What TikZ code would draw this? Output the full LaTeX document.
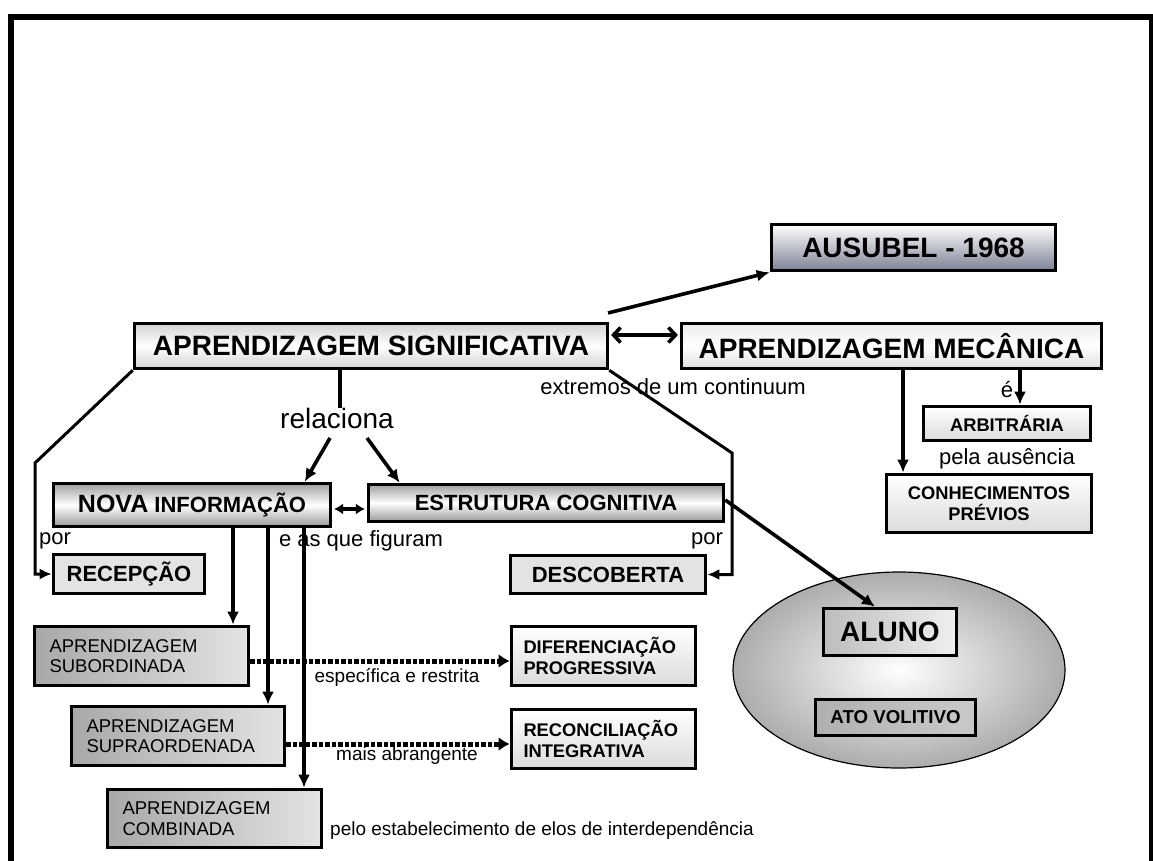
\documentclass[tikz,border=0pt]{standalone}
\usepackage{fontspec}
\setmainfont{Liberation Sans}
\usetikzlibrary{arrows.meta,calc,shapes.geometric}
\definecolor{ausb}{RGB}{125,130,148}
\newcommand{\myBig}{\fontsize{28}{32}\selectfont\bfseries}
\newcommand{\myMid}{\fontsize{22}{26}\selectfont\bfseries}
\newcommand{\mySmB}{\fontsize{18.3}{20.5}\selectfont\bfseries}
\newcommand{\mySmR}{\fontsize{18.5}{20.5}\selectfont}
\begin{document}
\begin{tikzpicture}[x=1pt,y=-1pt,
  box/.style={draw, line width=3.6pt, inner sep=0pt, align=center},
  lab/.style={inner sep=0pt, font=\fontsize{22}{26}\selectfont},
  labs/.style={inner sep=0pt, font=\fontsize{19}{22}\selectfont},
  arr/.style={line width=3.6pt, -{Latex[length=13pt,width=12pt]}},
  thinarr/.style={line width=3pt, -{Latex[length=12pt,width=11pt]}},
  dbl/.style={line width=3.6pt, {Straight Barb[length=7pt,width=15pt]}-{Straight Barb[length=7pt,width=15pt]}},
  dblsm/.style={line width=3.6pt, {Latex[length=9pt,width=11pt]}-{Latex[length=9pt,width=11pt]}},
  dots/.style={line width=5pt, dash pattern=on 4.5pt off 2pt, -{Latex[length=11pt,width=14pt]}},
  light/.style={top color=white, bottom color=gray!28},
  cyl/.style={top color=gray!75, bottom color=gray!80, middle color=white},
  ap/.style={box, left color=gray!68, right color=gray!22, align=left, font=\mySmR, inner xsep=15pt}
]
\useasboundingbox (0,0) rectangle (1153,861);
\begin{scope}
\clip (0,0) rectangle (1153,861);
\draw[line width=6pt] (10.5,17) rectangle (1151.5,900);
\end{scope}

% ellipse
\node[ellipse, draw, line width=1.2pt, minimum width=332pt, minimum height=196pt, inner color=white, outer color=gray!65] (ell) at (899,670) {};

% boxes
\node[box, minimum width=284pt, minimum height=46pt, top color=white, bottom color=ausb, font=\myBig] (aus) at (913.5,247.5) {AUSUBEL - 1968};
\node[box, minimum width=473pt, minimum height=45pt, top color=gray!35, bottom color=gray!35, middle color=white, font=\myBig] (sig) at (371,346) {APRENDIZAGEM SIGNIFICATIVA};
\node[box, minimum width=420pt, minimum height=45pt, top color=gray!15, bottom color=gray!25, middle color=white, font=\myBig] (mec) at (891.5,346) {APRENDIZAGEM MECÂNICA};
\node[box, minimum width=277pt, minimum height=43pt, cyl, font=\myMid] (nova) at (192,505) {{\fontsize{25}{28}\selectfont NOVA} INFORMAÇÃO};
\node[box, minimum width=355pt, minimum height=37pt, cyl, font=\myMid] (est) at (546,503) {ESTRUTURA COGNITIVA};
\node[box, minimum width=151pt, minimum height=39pt, fill=gray!22, font=\myMid] (rec) at (129,574) {RECEPÇÃO};
\node[box, minimum width=195pt, minimum height=38pt, fill=gray!22, font=\myMid] (desc) at (608,574.5) {DESCOBERTA};
\node[box, minimum width=167pt, minimum height=34pt, light, font=\mySmB] (arb) at (1007,423.5) {ARBITRÁRIA};
\node[box, minimum width=205pt, minimum height=58pt, light, font=\mySmB] (con) at (989,503.5) {CONHECIMENTOS\\PRÉVIOS};
\node[ap, minimum width=214pt, minimum height=59pt, text width=184pt] (sub) at (141.5,656) {APRENDIZAGEM\\SUBORDINADA};
\node[ap, minimum width=213pt, minimum height=59pt, text width=183pt] (sup) at (178,736) {APRENDIZAGEM\\SUPRAORDENADA};
\node[ap, minimum width=214pt, minimum height=58pt, text width=184pt] (comb) at (214.5,818.5) {APRENDIZAGEM\\COMBINADA};
\node[box, minimum width=184pt, minimum height=59pt, light, font=\mySmB, align=left, inner xsep=12pt, text width=160pt] (dif) at (603.5,656) {DIFERENCIAÇÃO\\PROGRESSIVA};
\node[box, minimum width=184pt, minimum height=59pt, light, font=\mySmB, align=left, inner xsep=12pt, text width=160pt] (recon) at (603.5,739) {RECONCILIAÇÃO\\INTEGRATIVA};
\node[box, minimum width=133pt, minimum height=47pt, left color=gray!52, right color=gray!12, font=\myBig] (aluno) at (890,632) {ALUNO};
\node[box, minimum width=160pt, minimum height=36pt, left color=gray!62, right color=gray!42, font=\fontsize{18.7}{22}\selectfont\bfseries] (ato) at (895.5,717.5) {ATO VOLITIVO};

% labels
\node[lab, font=\fontsize{28}{32}\selectfont] (rel) at (337,418) {relaciona};
\node[lab] (ext) at (673,387) {extremos de um continuum};
\node[lab] (por1) at (55,541) {por};
\node[lab] (fig) at (361,541) {e as que figuram};
\node[lab] (por2) at (707,541) {por};
\node[lab] (e) at (1007,390) {é};
\node[lab] (aus2) at (1007,459) {pela ausência};
\node[labs] (esp) at (397,677) {específica e restrita};
\node[labs] (mais) at (407,756) {mais abrangente};
\node[labs, anchor=west] (elos) at (330,831) {pelo estabelecimento de elos de interdependência};

% connectors
\coordinate (s1) at (608,313);
\draw[arr] (s1) -- (aus.south west);
\draw[dbl] ($(sig.east)+(1.8,-11)$) -- ($(mec.west)+(-1.8,-11)$);
\draw[thinarr] (sig.south west) -- (35,463) |- (rec.west);
\draw[thinarr] (sig.south east) -- (732,453) |- (desc.east);
\draw[line width=3.6pt] ($(sig.south)+(-31,0)$) coordinate (r0) -- (r0 |- rel.north);
\draw[arr] ($(rel.center)+(-7,20)$) -- ($(nova.north west)+(253,0)$);
\draw[arr] ($(rel.center)+(30,20)$) -- ($(est.north west)+(33,0)$);
\draw[dblsm] ($(nova.east)+(1.8,4)$) -- ($(est.west)+(-1.8,6)$);
\draw[arr] ($(nova.south)+(41,0)$) coordinate (n1) -- (n1 |- sub.north);
\draw[arr] ($(nova.south)+(76,0)$) coordinate (n2) -- (n2 |- sup.north);
\draw[arr] ($(nova.south)+(112,0)$) coordinate (n3) -- (n3 |- comb.north);
\draw[dots] ($(sub.east)+(0,5)$) coordinate (d1) -- (d1 -| dif.west);
\draw[dots] ($(sup.east)+(0,8)$) coordinate (d2) -- (d2 -| recon.west);
\draw[arr] ($(est.east)+(0,-3)$) -- ($(aluno.north)+(-15,0)$);
\draw[arr] ($(mec.south)+(11.5,0)$) coordinate (m1) -- (m1 |- con.north);
\draw[arr] ($(mec.south)+(128.5,0)$) coordinate (m2) -- (m2 |- arb.north);
\end{tikzpicture}
\end{document}
